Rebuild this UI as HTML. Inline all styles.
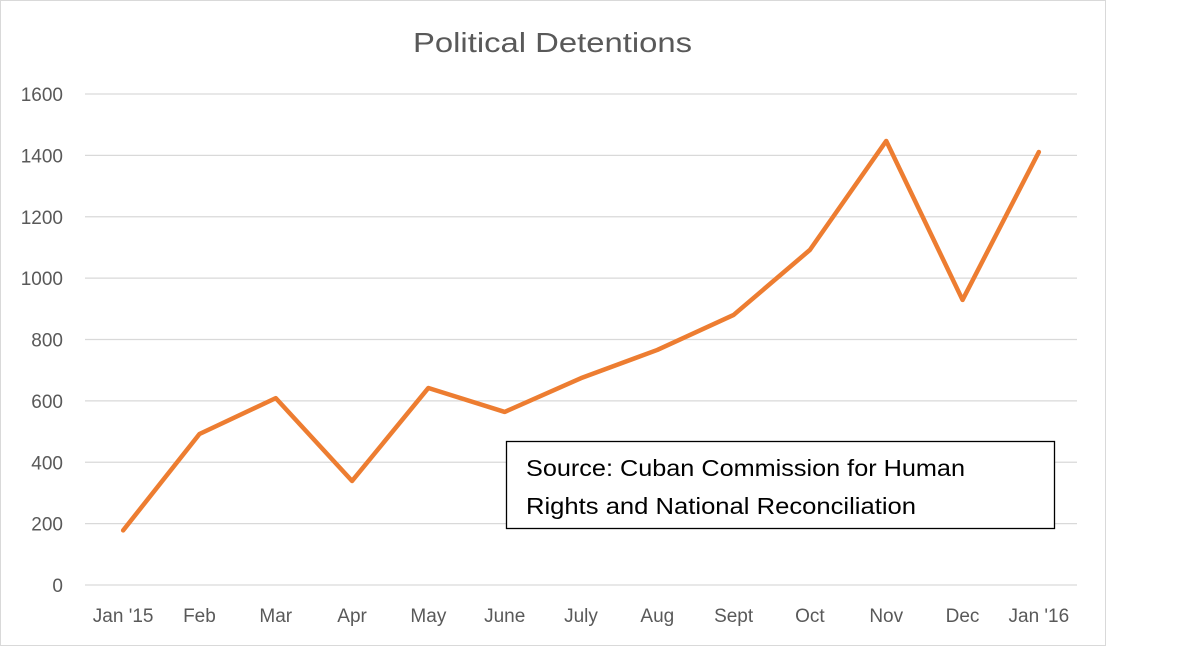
<!DOCTYPE html>
<html><head><meta charset="utf-8"><style>
html,body{margin:0;padding:0;background:#fff;}
svg{display:block;font-family:"Liberation Sans",sans-serif;}
</style></head><body>
<svg width="1200" height="668" viewBox="0 0 1200 668">
<rect x="0.5" y="0.5" width="1105" height="645" fill="#fff" stroke="#d9d9d9"/>
<text x="413" y="52" font-size="28" fill="#595959" textLength="279" lengthAdjust="spacingAndGlyphs">Political Detentions</text>
<g id="grid"></g><g id="yt"></g><g id="xt"></g><g id="ser"></g>
<g>
<rect x="506.5" y="441.5" width="548" height="87" fill="#fff" stroke="#000" stroke-width="1.3"/>
<text x="526" y="476" font-size="23" fill="#000" textLength="439" lengthAdjust="spacingAndGlyphs">Source: Cuban Commission for Human</text>
<text x="526" y="514" font-size="23" fill="#000" textLength="390" lengthAdjust="spacingAndGlyphs">Rights and National Reconciliation</text>
</g>
</svg>
<script>
const categories=["Jan '15","Feb","Mar","Apr","May","June","July","Aug","Sept","Oct","Nov","Dec","Jan '16"];
const detentions=[178,492,609,339,642,564,674,766,880,1092,1447,929,1411];
const yTicks=[0,200,400,600,800,1000,1200,1400,1600];
const NS="http://www.w3.org/2000/svg";
const x0=85,x1=1077,y0=585,y1=94,yMax=1600;
const bw=(x1-x0)/categories.length;
const xs=i=>x0+bw*(i+0.5);
const ys=v=>y0-(v/yMax)*(y0-y1);
function mk(t,a,p){const e=document.createElementNS(NS,t);for(const k in a)e.setAttribute(k,a[k]);p.appendChild(e);return e;}
const g=document.getElementById('grid'),yt=document.getElementById('yt'),xt=document.getElementById('xt'),sr=document.getElementById('ser');
yTicks.forEach(v=>{
 const l=mk('line',{x1:x0,x2:x1,y1:ys(v),y2:ys(v),stroke:'#d9d9d9','stroke-width':1.3},g);
 
 
 const t=mk('text',{x:63,y:ys(v)+7,'text-anchor':'end','font-size':19,fill:'#595959'},yt);
 t.textContent=v;
 
 
});
categories.forEach((c,i)=>{
 const t=mk('text',{x:xs(i),y:622,'text-anchor':'middle','font-size':19,fill:'#595959'},xt);
 t.textContent=c;
 
 
});
const pl=mk('polyline',{points:detentions.map((v,i)=>xs(i)+','+ys(v)).join(' '),fill:'none',stroke:'#ed7d31','stroke-width':4.5,'stroke-linejoin':'round','stroke-linecap':'round'},sr);


</script>
</body></html>
